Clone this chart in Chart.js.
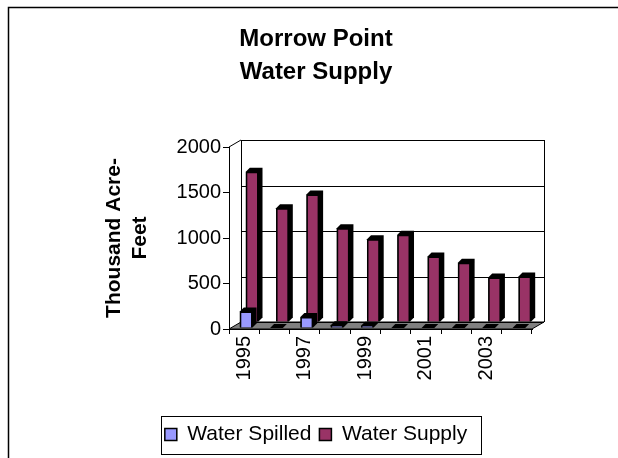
<!DOCTYPE html>
<html>
<head>
<meta charset="utf-8">
<script src="https://cdn.jsdelivr.net/npm/chart.js@4.4.1/dist/chart.umd.min.js"></script>
<style>
  html, body { margin: 0; padding: 0; background: #fff; }
  #wrap { position: relative; width: 618px; height: 458px; }
</style>
</head>
<body>
<div id="wrap"><canvas id="c" width="618" height="458"></canvas></div>
<script>
// ---- data ----
const years = ['1995','1996','1997','1998','1999','2000','2001','2002','2003','2004'];
const waterSpilled = [180, 0, 120, 30, 25, 0, 0, 0, 0, 0];
const waterSupply = [1650, 1250, 1400, 1030, 910, 960, 720, 650, 490, 500];
const yTicks = [0, 500, 1000, 1500, 2000];
const titleLines = ['Morrow Point', 'Water Supply'];
const yTitleLines = ['Thousand Acre-', 'Feet'];

const FONT = "'Liberation Sans', Arial, sans-serif";
const WALL_DX = 12, WALL_DY = 7;      // back wall offset
const BAR_DX = 4, BAR_DY = 4;         // bar depth
const ROW_SHIFT = [[2, -1], [8, -7]]; // per dataset row shift (front, back)

const depthPlugin = {
  id: 'depth3d',
  beforeDraw(chart) {
    const ctx = chart.ctx;
    ctx.save();
    ctx.fillStyle = '#fff';
    ctx.fillRect(0, 0, chart.width, chart.height);
    ctx.strokeStyle = '#000';
    ctx.lineWidth = 1.5;
    ctx.beginPath();
    ctx.moveTo(8.5, chart.height);
    ctx.lineTo(8.5, 7.5);
    ctx.lineTo(chart.width, 7.5);
    ctx.stroke();
    ctx.restore();
  },
  beforeDatasetsDraw(chart) {
    const ctx = chart.ctx;
    const a = chart.chartArea;
    const ys = chart.scales.y;
    const L = a.left, R = a.right, T = a.top, B = a.bottom;
    ctx.save();
    ctx.fillStyle = '#808080';
    ctx.strokeStyle = '#000';
    ctx.lineWidth = 1;
    ctx.beginPath();
    ctx.moveTo(L, B);
    ctx.lineTo(L + WALL_DX, B - WALL_DY);
    ctx.lineTo(R + WALL_DX, B - WALL_DY);
    ctx.lineTo(R, B);
    ctx.closePath();
    ctx.fill();
    ctx.stroke();
    ctx.beginPath();
    yTicks.forEach(v => {
      const y = Math.round(ys.getPixelForValue(v) - WALL_DY) + 0.5;
      ctx.moveTo(L + WALL_DX, y);
      ctx.lineTo(R + WALL_DX, y);
    });
    ctx.moveTo(L + WALL_DX + 0.5, T - WALL_DY);
    ctx.lineTo(L + WALL_DX + 0.5, B - WALL_DY);
    ctx.moveTo(R + WALL_DX + 0.5, T - WALL_DY);
    ctx.lineTo(R + WALL_DX + 0.5, B - WALL_DY);
    ctx.moveTo(L, T);
    ctx.lineTo(L + WALL_DX, T - WALL_DY);
    ctx.stroke();
    ctx.restore();
  },
  beforeDatasetDraw(chart, args) {
    const ctx = chart.ctx;
    const [sx, sy] = ROW_SHIFT[args.index];
    ctx.save();
    ctx.translate(sx, sy);
    ctx.fillStyle = '#000';
    args.meta.data.forEach(el => {
      const p = el.getProps(['x', 'y', 'base', 'width'], true);
      const l = p.x - p.width / 2, r = p.x + p.width / 2;
      const top = Math.min(p.y, p.base), bot = Math.max(p.y, p.base);
      ctx.beginPath();
      ctx.moveTo(l, top);
      ctx.lineTo(l + BAR_DX, top - BAR_DY);
      ctx.lineTo(r + BAR_DX, top - BAR_DY);
      ctx.lineTo(r + BAR_DX, bot - BAR_DY);
      ctx.lineTo(r, bot);
      ctx.lineTo(l, bot);
      ctx.closePath();
      ctx.fill();
    });
  },
  afterDatasetDraw(chart) {
    chart.ctx.restore();
  },
  afterDraw(chart) {
    const lg = chart.legend;
    if (!lg || !lg.legendHitBoxes || !lg.legendHitBoxes.length) return;
    const hb = lg.legendHitBoxes;
    let x0 = Infinity, x1 = -Infinity;
    hb.forEach(b => {
      x0 = Math.min(x0, b.left); x1 = Math.max(x1, b.left + b.width);
    });
    const ctx = chart.ctx;
    ctx.save();
    ctx.strokeStyle = '#000';
    ctx.lineWidth = 1;
    ctx.strokeRect(Math.round(x0 - 4) + 0.5, Math.round(lg.top) + 0.5, Math.round(x1 - x0 + 18), Math.round(lg.height - 1));
    ctx.restore();
  }
};

new Chart(document.getElementById('c'), {
  type: 'bar',
  data: {
    labels: years,
    datasets: [
      { label: 'Water Spilled', data: waterSpilled, backgroundColor: '#9999FF',
        borderColor: '#000', borderWidth: 1.5, grouped: false },
      { label: 'Water Supply', data: waterSupply, backgroundColor: '#993366',
        borderColor: '#000', borderWidth: 1.5, grouped: false }
    ]
  },
  plugins: [depthPlugin],
  options: {
    responsive: false,
    animation: false,
    devicePixelRatio: 1,
    layout: { padding: { left: 100, right: 86, top: 14, bottom: 3 } },
    datasets: { bar: { categoryPercentage: 1.0, barPercentage: 0.42 } },
    plugins: {
      tooltip: { enabled: false },
      title: {
        display: true,
        text: titleLines,
        color: '#000',
        font: { family: FONT, size: 24, weight: 'bold', lineHeight: 1.375 },
        padding: { top: 9, bottom: 58 }
      },
      legend: {
        position: 'bottom',
        labels: {
          color: '#000',
          font: { family: FONT, size: 21 },
          boxWidth: 12, boxHeight: 12,
          padding: 8,
          generateLabels(chart) {
            return chart.data.datasets.map((d, i) => ({
              text: d.label, fillStyle: d.backgroundColor, strokeStyle: '#000',
              lineWidth: 1.5, datasetIndex: i, hidden: false
            }));
          }
        }
      }
    },
    scales: {
      x: {
        border: { display: true, color: '#000', width: 1 },
        grid: { display: true, offset: true, drawOnChartArea: false, drawTicks: true, tickLength: 5, color: '#000' },
        ticks: {
          color: '#000', font: { family: FONT, size: 20 },
          minRotation: 90, maxRotation: 90, autoSkip: false, padding: 2,
          callback: (v, i) => (i % 2 === 0 ? years[i] : '')
        },
        afterFit: s => { s.height = 87; }
      },
      y: {
        min: 0, max: 2000,
        border: { display: true, color: '#000', width: 1 },
        grid: { display: true, drawOnChartArea: false, drawTicks: true, tickLength: 6, color: '#000' },
        ticks: { color: '#000', font: { family: FONT, size: 20 }, stepSize: 500, padding: 2,
          callback: v => String(v) },
        title: {
          display: true, text: yTitleLines, color: '#000',
          font: { family: FONT, size: 21, weight: 'bold', lineHeight: 1.25 },
          padding: { top: 1, bottom: 8 }
        },
        afterFit: s => { s.width = 129; }
      }
    }
  }
});
</script>
</body>
</html>
